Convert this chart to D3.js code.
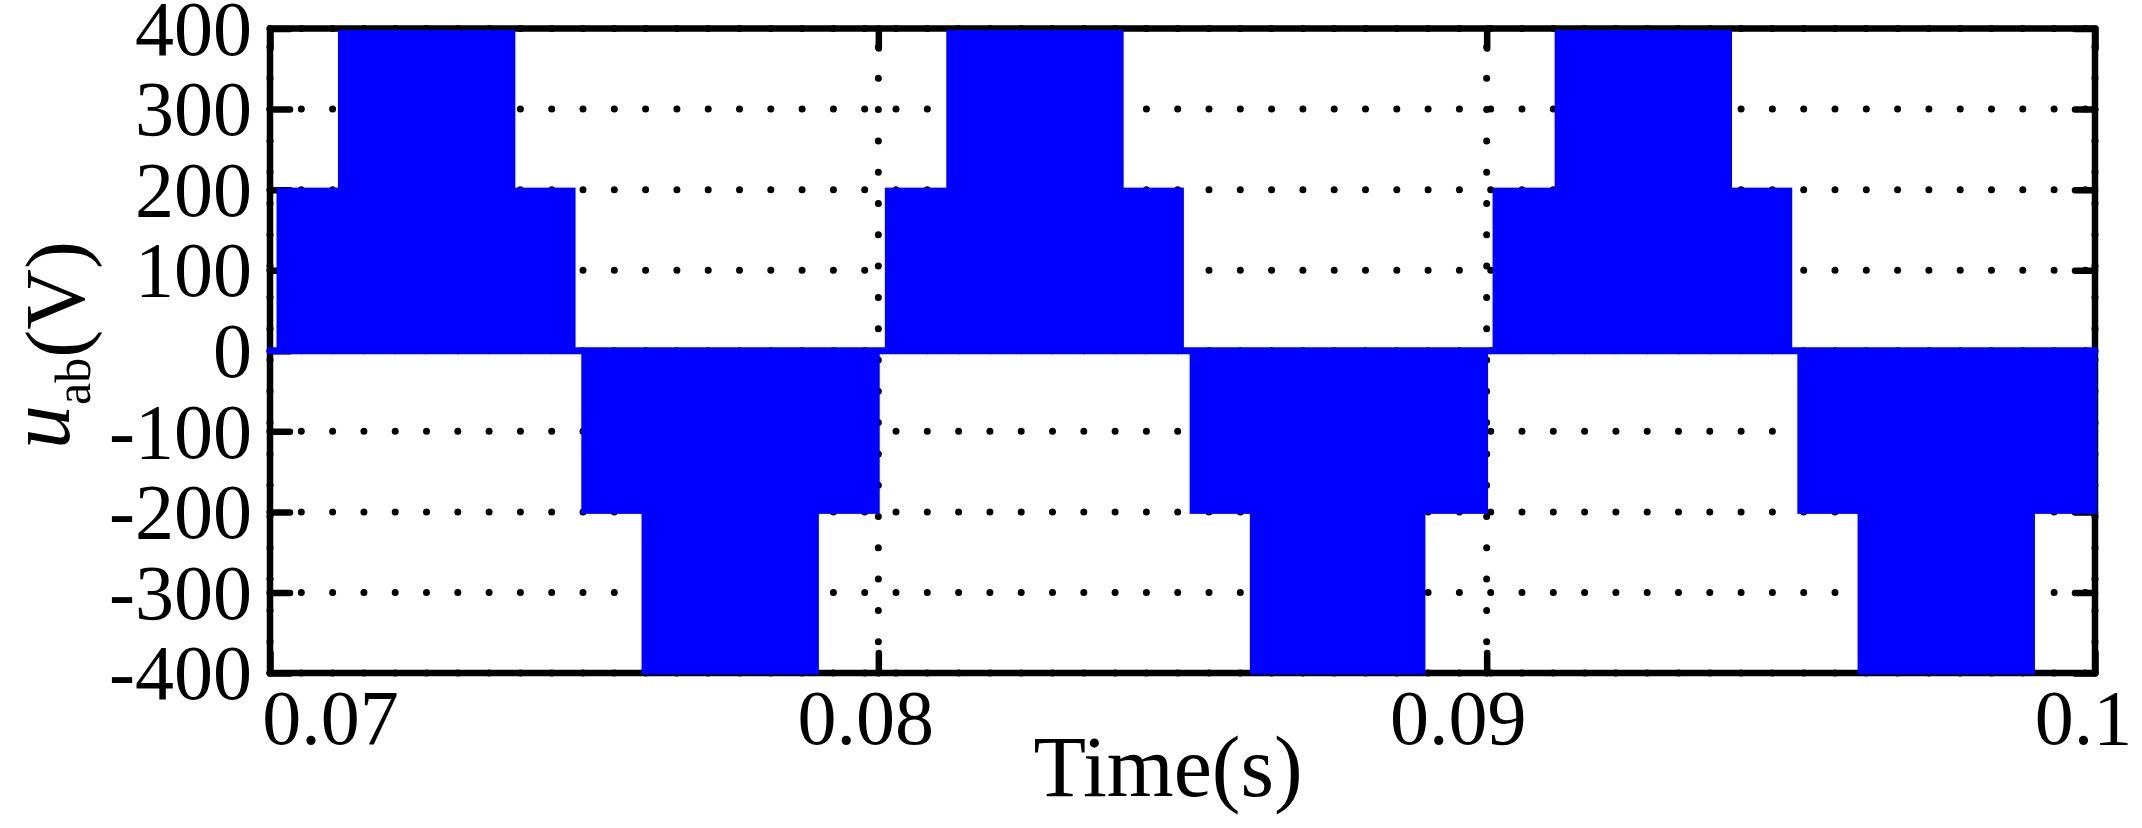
<!DOCTYPE html>
<html>
<head>
<meta charset="utf-8">
<script src="https://cdn.jsdelivr.net/npm/d3@7/dist/d3.min.js"></script>
<style>
  html, body { margin: 0; padding: 0; background: #fff; }
  svg { display: block; }
  text { font-family: "Liberation Serif", "Times New Roman", serif; fill: #000; }
</style>
</head>
<body>
<svg id="chart" width="2142" height="828"></svg>
<script>
// ---------------- data ----------------
const xTicks = [0.07, 0.08, 0.09, 0.1];
const xTickLabels = ["0.07", "0.08", "0.09", "0.1"];
const yTicks = [-400, -300, -200, -100, 0, 100, 200, 300, 400];
const yTickLabels = ["-400", "-300", "-200", "-100", "0", "100", "200", "300", "400"];

// PWM switching bands (the waveform switches between bandLow and bandHigh inside [bandStart, bandEnd])
const bandStart = [0.07014, 0.07115, 0.07515, 0.07614, 0.08014, 0.08115, 0.08515, 0.08614, 0.09013, 0.09115, 0.09514, 0.09613];
const bandEnd   = [0.07499, 0.07400, 0.07999, 0.07899, 0.08499, 0.08400, 0.08999, 0.08896, 0.09499, 0.09400, 0.10000, 0.09898];
const bandLow   = [0, 200, -200, -400, 0, 200, -200, -400, 0, 200, -200, -400];
const bandHigh  = [200, 400, 0, -200, 200, 400, 0, -200, 200, 400, 0, -200];

// zero-level segment of the waveform
const zeroT = [0.07, 0.1];
const zeroV = [0, 0];

// ---------------- layout ----------------
const svg = d3.select("#chart");
const L = 270, R = 2095, T = 28.5, B = 673;
const x = d3.scaleLinear().domain([0.07, 0.1]).range([L, R]);
const y = d3.scaleLinear().domain([-400, 400]).range([B, T]);
const blue = "#0000ff";
const LW = 6.5;
const FS = 78;

// ---------------- grid (dotted) ----------------
const grid = svg.append("g");
grid.selectAll("line.h").data(yTicks).join("line")
  .attr("x1", L).attr("x2", R)
  .attr("y1", d => y(d)).attr("y2", d => y(d))
  .attr("stroke", "#000").attr("stroke-width", 7)
  .attr("stroke-linecap", "round").attr("stroke-dasharray", "0 31.3");
grid.selectAll("line.v").data(xTicks).join("line")
  .attr("x1", d => x(d)).attr("x2", d => x(d))
  .attr("y1", B).attr("y2", T)
  .attr("stroke", "#000").attr("stroke-width", 7)
  .attr("stroke-linecap", "round").attr("stroke-dasharray", "0 31.3");

// ---------------- axes ----------------
function styleAxis(g) {
  g.select(".domain").remove();
  g.selectAll(".tick line").attr("stroke", "#000").attr("stroke-width", LW).attr("stroke-linecap", "round");
  g.selectAll("text").attr("font-size", FS).attr("font-family", "Liberation Serif").attr("fill", "#000");
}

const axL = svg.append("g").attr("transform", `translate(${L},0)`)
  .call(d3.axisLeft(y).tickValues(yTicks).tickFormat((d, i) => yTickLabels[i]).tickSize(-20).tickPadding(18));
styleAxis(axL);
axL.selectAll("text").attr("dy", "0.33em");

const axR = svg.append("g").attr("transform", `translate(${R},0)`)
  .call(d3.axisRight(y).tickValues(yTicks).tickFormat("").tickSize(-20));
styleAxis(axR);

const xLabelShift = [60, -13, -29, -12];
const axB = svg.append("g").attr("transform", `translate(0,${B})`)
  .call(d3.axisBottom(x).tickValues(xTicks).tickFormat((d, i) => xTickLabels[i]).tickSize(-20));
styleAxis(axB);
axB.selectAll("text").attr("y", 71).attr("dy", 0).attr("dx", (d, i) => xLabelShift[i]);

const axT = svg.append("g").attr("transform", `translate(0,${T})`)
  .call(d3.axisTop(x).tickValues(xTicks).tickFormat("").tickSize(-20));
styleAxis(axT);

svg.append("rect").attr("x", L).attr("y", T).attr("width", R - L).attr("height", B - T)
  .attr("fill", "none").attr("stroke", "#000").attr("stroke-width", LW).attr("stroke-linejoin", "round");

// ---------------- data ----------------
svg.append("clipPath").attr("id", "clip").append("rect")
  .attr("x", L - 4).attr("y", T + 1.5).attr("width", R - L + 8).attr("height", B - T);

const dataG = svg.append("g").attr("clip-path", "url(#clip)");
dataG.append("path")
  .datum(zeroT.map((t, i) => [t, zeroV[i]]))
  .attr("d", d3.line().x(d => x(d[0])).y(d => y(d[1])))
  .attr("fill", "none").attr("stroke", blue).attr("stroke-width", 7).attr("stroke-linecap", "round");

dataG.selectAll("rect.band").data(bandStart.map((s, i) => i)).join("rect")
  .attr("x", i => x(bandStart[i]))
  .attr("width", i => x(bandEnd[i]) - x(bandStart[i]))
  .attr("y", i => y(bandHigh[i]))
  .attr("height", i => y(bandLow[i]) - y(bandHigh[i]))
  .attr("fill", blue).attr("stroke", blue).attr("stroke-width", 4);

// ---------------- labels ----------------
svg.append("text")
  .attr("x", 1168).attr("y", 796)
  .attr("text-anchor", "middle").attr("font-size", 86)
  .text("Time(s)");

const yl = svg.append("text")
  .attr("transform", "translate(84,345) rotate(-90)")
  .attr("text-anchor", "middle").attr("font-size", 84);
yl.append("tspan").attr("font-style", "italic").attr("font-size", 88).attr("dy", -15).text("u");
yl.append("tspan").attr("font-size", 50).attr("dy", 21).text("ab");
yl.append("tspan").attr("dy", -6).text("(V)");
</script>
</body>
</html>
